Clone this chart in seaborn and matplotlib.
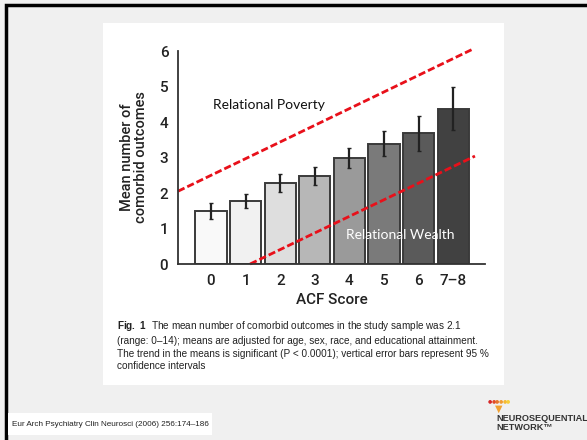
"""
ACE score vs mean number of comorbid outcomes (slide recreation).
"""

import matplotlib
matplotlib.use("Agg")
import matplotlib.pyplot as plt
import seaborn as sns
import pandas as pd
from matplotlib.patches import Rectangle

# dados
ace_labels = ["0", "1", "2", "3", "4", "5", "6", "7\u20138"]
means = [1.50, 1.78, 2.28, 2.48, 3.00, 3.38, 3.68, 4.36]
ci_low = [1.27, 1.57, 2.02, 2.23, 2.71, 3.04, 3.19, 3.77]
ci_high = [1.71, 1.98, 2.53, 2.74, 3.28, 3.75, 4.17, 4.99]
bar_colors = ["#f9f9f9", "#f1f1f1", "#dedede", "#b7b7b7",
              "#9a9a9a", "#7a7a7a", "#5a5a5a", "#414141"]

# linhas vermelhas (x em posições das categorias)
poverty_x = [-0.955, 7.54]
poverty_y = [2.05, 6.04]
wealth_x = [1.13, 7.63]
wealth_y = [0.0, 3.04]

caption = ("$\\bf{Fig.\\ 1}$  The mean number of comorbid outcomes in the study sample was 2.1\n"
           "(range: 0\u201314); means are adjusted for age, sex, race, and educational attainment.\n"
           "The trend in the means is significant (P < 0.0001); vertical error bars represent 95 %\n"
           "confidence intervals")
citation = "Eur Arch Psychiatry Clin Neurosci (2006) 256:174\u2013186"

df = pd.DataFrame({"ace": ace_labels, "mean": means})

sns.set_style("white")
plt.rcParams["font.family"] = ["DejaVu Sans"]
plt.rcParams["mathtext.fontset"] = "custom"
plt.rcParams["mathtext.bf"] = "Liberation Sans:bold"
NARROW = ["Liberation Sans", "DejaVu Sans"]
AXFONT = ["Roboto", "DejaVu Sans"]

W, H = 587, 440
fig = plt.figure(figsize=(W / 100, H / 100), dpi=100)
fig.patch.set_facecolor("#f0f0f0")


def px(x, y, w, h):
    # caixa em pixels (origem no topo) -> coordenadas da figura
    return (x / W, 1 - (y + h) / H, w / W, h / H)


# moldura preta e painéis brancos (atrás dos eixos)
x0, y0, w0, h0 = px(6, 5, 590, 440)
fig.add_artist(Rectangle((x0, y0), w0, h0, transform=fig.transFigure,
                         fill=False, edgecolor="black", linewidth=2.5, zorder=-5))
x0, y0, w0, h0 = px(103, 23, 401, 362)
fig.add_artist(Rectangle((x0, y0), w0, h0, transform=fig.transFigure,
                         facecolor="white", edgecolor="none", zorder=-5))
x0, y0, w0, h0 = px(8, 413, 204, 22)
fig.add_artist(Rectangle((x0, y0), w0, h0, transform=fig.transFigure,
                         facecolor="white", edgecolor="none", zorder=-5))

ax = fig.add_axes(px(178, 51, 307, 213))
ax.set_facecolor("none")

sns.barplot(data=df, x="ace", y="mean", hue="ace", palette=bar_colors,
            legend=False, errorbar=None, width=0.9, edgecolor="#3a3a3a",
            linewidth=1.4, ax=ax)
ax.errorbar(range(len(means)), means,
            yerr=[[m - lo for m, lo in zip(means, ci_low)],
                  [hi - m for m, hi in zip(means, ci_high)]],
            fmt="none", ecolor="#222222", elinewidth=1.6, capsize=1.5)

ax.set_xlim(-0.955, 7.92)
ax.set_ylim(0, 6)
ax.set_yticks(range(7))
sns.despine(ax=ax)
for s in ["left", "bottom"]:
    ax.spines[s].set_color("#333333")
    ax.spines[s].set_linewidth(1.3)
ax.tick_params(axis="y", direction="out", length=3, width=1.2, color="#333333",
               labelsize=11, pad=4, labelcolor="#222222")
ax.tick_params(axis="x", length=0, labelsize=11, pad=7, labelcolor="#222222")
for lab in ax.get_xticklabels() + ax.get_yticklabels():
    lab.set_family(AXFONT)
    lab.set_fontweight("medium")
ax.set_xlabel("ACF Score", fontsize=11, color="#222222", labelpad=4,
              family=AXFONT, fontweight="medium")
ax.set_ylabel("Mean number of\ncomorbid outcomes", fontsize=10.5,
              color="#222222", labelpad=8, family=AXFONT, linespacing=1.0,
              fontweight="medium")

ax.plot(poverty_x, poverty_y, color="#e8101a", linestyle=(0, (2.6, 1.1)),
        linewidth=2.0, clip_on=False)
ax.plot(wealth_x, wealth_y, color="#e8101a", linestyle=(0, (2.6, 1.1)),
        linewidth=2.0, clip_on=False)

ax.text(0.06, 4.48, "Relational Poverty", fontsize=10, color="#111111",
        va="center", ha="left", family=["Lato", "DejaVu Sans"])
ax.text(3.9, 0.82, "Relational Wealth", fontsize=10, color="white",
        va="center", ha="left", family=["Lato", "DejaVu Sans"])

fig.text(117 / W, 1 - 319 / H, caption, fontsize=7.2, color="#222222",
         va="top", ha="left", linespacing=1.35, family=NARROW)
fig.text(12 / W, 1 - 424 / H, citation, fontsize=5.9, color="#222222",
         va="center", ha="left", family=NARROW)

# logo
for i, c in enumerate(["#d62828", "#e04a2a", "#e8742c", "#f09a30", "#f5b833", "#f7cf3a"]):
    fig.text((490 + i * 3.6) / W, 1 - 401 / H, "\u25CF", fontsize=3.5, color=c,
             ha="center", va="center")
fig.text(499 / W, 1 - 409 / H, "\u25BC", fontsize=7, color="#f0a030",
         ha="center", va="center")
fig.text(496 / W, 1 - 423 / H, "NEUROSEQUENTIAL\nNETWORK\u2122", fontsize=6.6,
         color="#333333", ha="left", va="center", linespacing=0.95,
         family=NARROW, fontweight="bold")

fig.savefig("out.png", dpi=100, facecolor=fig.get_facecolor())
